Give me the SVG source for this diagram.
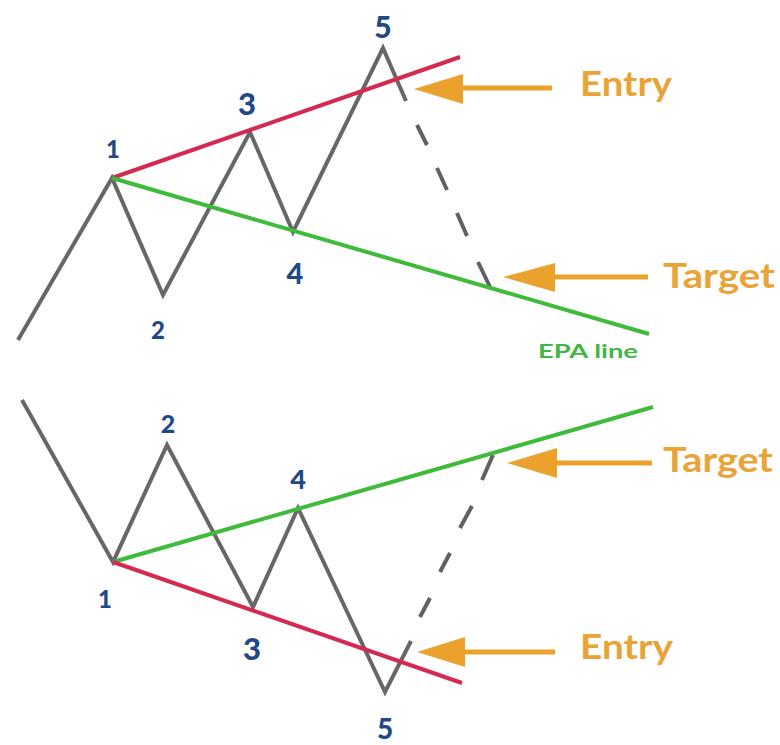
<svg xmlns="http://www.w3.org/2000/svg" width="780" height="745" viewBox="0 0 780 745">
<style>
.wave{fill:none;stroke:#676767;stroke-width:4;stroke-linejoin:miter;stroke-linecap:butt}
.dash{fill:none;stroke:#5f6068;stroke-width:4;stroke-linecap:butt}
.red{stroke:#d42a4f;stroke-width:4;fill:none}
.green{stroke:#3fbb3b;stroke-width:4;fill:none}
.arr{stroke:#eba22c;stroke-width:5;fill:none}
.head{fill:#eba22c}
.num{font-family:Lato,"Open Sans",sans-serif;font-weight:900;fill:#1f4a85;text-anchor:middle}
.lbl{font-family:Lato,"Open Sans",sans-serif;font-weight:700;fill:#e9a336;font-size:34px}
.epa{font-family:Lato,"Open Sans",sans-serif;font-weight:700;fill:#45b547;font-size:19px}
</style>
<rect width="780" height="745" fill="#ffffff"/>
<g id="connectors">
  <!-- top pattern -->
  <polyline class="wave" points="18,340 112,178 163,295 250,132 293,232 383,48 406,101"/>
  <path class="dash" d="M417,125 L427,145 M437,168 L447,190 M457,213 L467,236 M478,262 L490,287"/>
  <line class="red" x1="112" y1="178" x2="460" y2="57"/>
  <line class="green" x1="112" y1="178" x2="649" y2="334"/>
  <line class="arr" x1="450" y1="88" x2="552" y2="88"/>
  <polygon class="head" points="414,89 463,74 463,104"/>
  <line class="arr" x1="540" y1="277" x2="648" y2="277"/>
  <polygon class="head" points="503,277 555,263 555,292"/>
  <!-- bottom pattern -->
  <polyline class="wave" points="22,400 113,562 167,445 253,607 298,508 385,692 411,641"/>
  <path class="dash" d="M420,617 L430,598 M440,572 L450,553 M460,528 L472,506 M482,480 L493,455"/>
  <line class="green" x1="113" y1="562" x2="653" y2="407"/>
  <line class="red" x1="113" y1="562" x2="462" y2="683"/>
  <line class="arr" x1="545" y1="463" x2="652" y2="463"/>
  <polygon class="head" points="507,463 557,448 557,478"/>
  <line class="arr" x1="450" y1="652" x2="555" y2="652"/>
  <polygon class="head" points="417,652 465,637 465,667"/>
</g>
<g id="top-labels">
  <text class="num" x="113" y="158" font-size="24">1</text>
  <text class="num" x="158" y="339" font-size="24">2</text>
  <text class="num" x="247" y="115" font-size="31">3</text>
  <text class="num" x="295" y="284" font-size="29">4</text>
  <text class="num" x="383" y="38" font-size="30">5</text>
</g>
<g id="bottom-labels">
  <text class="num" x="105" y="608" font-size="24">1</text>
  <text class="num" x="168" y="433" font-size="25">2</text>
  <text class="num" x="252" y="660" font-size="31">3</text>
  <text class="num" x="298" y="489" font-size="27">4</text>
  <text class="num" x="385" y="739" font-size="28">5</text>
</g>
<g id="entry-top"><text class="lbl" x="580" y="96" textLength="92" lengthAdjust="spacingAndGlyphs">Entry</text></g>
<g id="target-top"><text class="lbl" x="663" y="288" textLength="112" lengthAdjust="spacingAndGlyphs">Target</text></g>
<g id="epa-line"><text class="epa" x="538" y="358" textLength="100" lengthAdjust="spacingAndGlyphs">EPA line</text></g>
<g id="target-bottom"><text class="lbl" x="663" y="472" textLength="110" lengthAdjust="spacingAndGlyphs">Target</text></g>
<g id="entry-bottom"><text class="lbl" x="580" y="659" textLength="93" lengthAdjust="spacingAndGlyphs">Entry</text></g>
</svg>
